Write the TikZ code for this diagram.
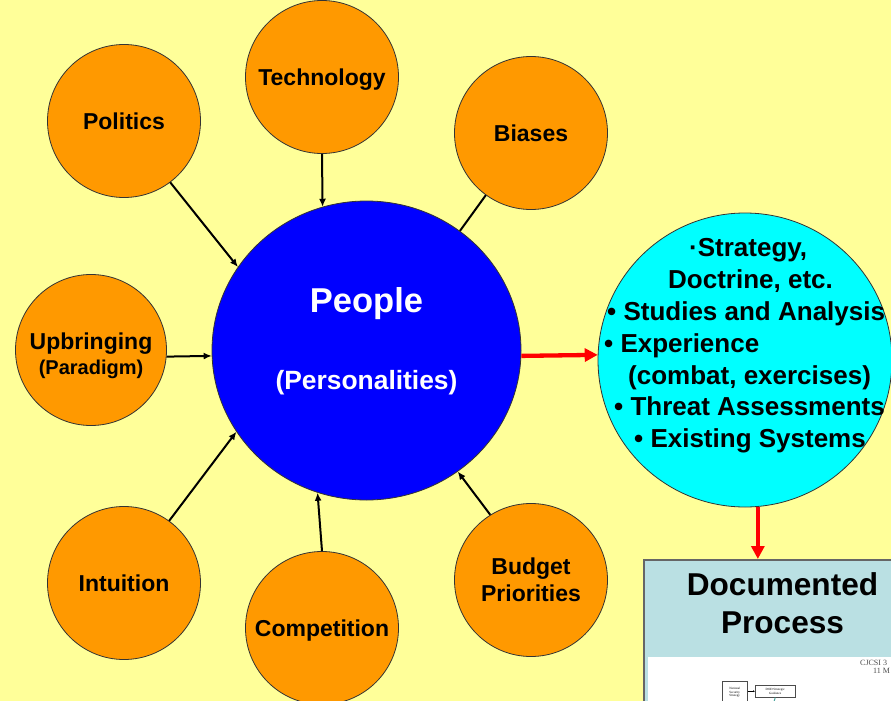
\documentclass[tikz,border=0pt]{standalone}
\usepackage{fontspec}
\setmainfont{Liberation Sans}
\newfontfamily\serifface{Liberation Serif}
\usetikzlibrary{shapes.geometric,arrows.meta}
\definecolor{bgyellow}{HTML}{FFFF99}
\definecolor{orangec}{HTML}{FF9900}
\definecolor{bluec}{HTML}{0000FF}
\definecolor{cyanc}{HTML}{00FFFF}
\definecolor{boxfill}{HTML}{BAE0E3}
\definecolor{tealline}{HTML}{4FA8A0}
\begin{document}
\begin{tikzpicture}[x=1pt,y=-1pt,
  factor/.style={circle,draw=black!80,line width=0.8pt,fill=orangec,minimum size=153pt,inner sep=0pt,align=center,font=\bfseries\fontsize{23}{27}\selectfont},
  oneline/.style={text height=16.5pt,text depth=0pt},
  link/.style={line width=2pt,-{Latex[length=8pt,width=7pt]}},
  redlink/.style={draw=red,line width=4.3pt,-{Triangle[length=13pt,width=13pt]}},
  cytext/.style={anchor=base west,inner sep=0pt,font=\bfseries\fontsize{26}{30}\selectfont},
  bigtext/.style={anchor=base,inner sep=0pt,font=\bfseries\fontsize{#1}{#1}\selectfont},
  tinybox/.style={draw=black!70,line width=0.5pt,fill=white,inner sep=0.5pt,align=center,font=\serifface\fontsize{3.2}{3.8}\selectfont,anchor=north west},
]
\useasboundingbox (0,0) rectangle (891,701);
\clip (0,0) rectangle (891,701);
\fill[bgyellow] (0,0) rectangle (891,701);

% orange factor circles
\node[factor,oneline] (pol) at (124,121) {Politics};
\node[factor,oneline] (tech) at (322,77) {Technology};
\node[factor,oneline] (bias) at (531,133) {Biases};
\node[factor,minimum size=151pt] (upb) at (91,350) {};
\node[bigtext=23] (upbt) at (91,349) {Upbringing};
\node[bigtext=20] (upbp) at (91,374) {(Paradigm)};
\node[factor,oneline] (intu) at (124,583) {Intuition};
\node[factor,oneline] (comp) at (322,628) {Competition};
\node[factor] (budg) at (531,580) {Budget\\Priorities};

% central people ellipse
\node[ellipse,draw=black!80,line width=0.8pt,fill=bluec,minimum width=309pt,minimum height=299pt,inner sep=0pt] (people) at (366.5,350.5) {};
\node[bigtext=34.5,text=white] (peoplet) at (366.5,312) {People};
\node[bigtext=26.4,text=white] (perst) at (366.5,389) {(Personalities)};

% cyan circle
\node[circle,draw=black!80,line width=0.8pt,fill=cyanc,minimum size=294pt,inner sep=0pt] (cyan) at (745,360) {};
\node[cytext] (l1) at (689,256) {·Strategy,};
\node[cytext] (l2) at (668,288) {Doctrine, etc.};
\node[cytext] (l3) at (607,320) {• Studies and Analysis};
\node[cytext] (l4) at (604,352) {• Experience};
\node[cytext] (l5) at (628,384) {(combat, exercises)};
\node[cytext] (l6) at (614,415) {• Threat Assessments};
\node[cytext] (l7) at (634,447) {• Existing Systems};

% documented process box
\node[draw=black!60,line width=1.5pt,fill=boxfill,anchor=north west,minimum width=300pt,minimum height=200pt,inner sep=0pt] (doc) at (643,559) {};
\node[fill=white,anchor=north west,minimum width=300pt,minimum height=80pt,inner sep=0pt] (page) at (648,657) {};
\node[bigtext=31.6] (dt1) at (782.5,595) {Documented};
\node[bigtext=31.6] (dt2) at (782.5,633) {Process};
\node[anchor=north west,inner sep=0pt,font=\serifface\fontsize{8}{9}\selectfont,text=black!70] (cj1) at (860,660) {CJCSI 3};
\node[anchor=north west,inner sep=0pt,font=\serifface\fontsize{8}{9}\selectfont,text=black!70] (cj2) at (873,668) {11 M};
\node[tinybox,minimum width=25pt,minimum height=22pt] (nss) at (722,681) {National\\Security\\Strategy};
\node[tinybox,minimum width=40pt,minimum height=12pt] (dsg) at (755,685) {DOD Strategic\\Guidance};
\draw[line width=0.6pt,-{Latex[length=2pt,width=2pt]}] (nss.east |- dsg.west) -- (dsg.west);
\coordinate (tealend) at (773,705);
\draw[tealline,line width=1pt] (dsg.south) -- (tealend);

% black connectors
\draw[link] (pol.-53.7) -- (people.147.7);
\draw[link] (tech.-90) -- (people.107.3);
\draw[line width=2pt] (bias.234.4) -- (people.52.3);
\draw[link] (upb.-5.3) -- (people.182.4);
\draw[link] (intu.54.2) -- (people.212.5);
\draw[link] (comp.90) -- (people.251.7);
\draw[link] (budg.122.9) -- (people.-53.2);

% red connectors
\draw[redlink] (people.-2.4) -- (cyan.178.8);
\draw[redlink] (cyan.-85.3) -- (cyan.-85.3 |- doc.north);
\end{tikzpicture}
\end{document}
